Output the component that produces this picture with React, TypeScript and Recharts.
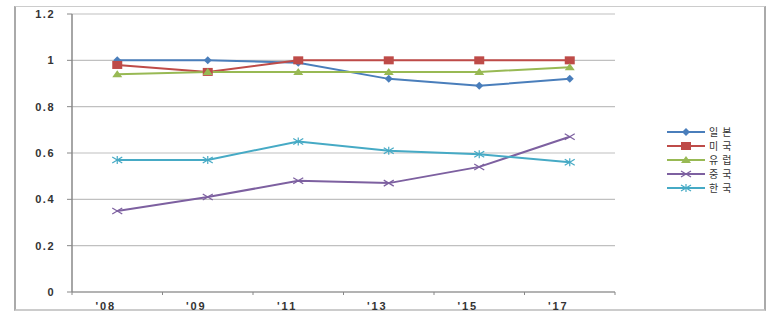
import React from 'react';
import { LineChart, Line, XAxis, YAxis, CartesianGrid } from 'recharts';

const years = ["'08", "'09", "'11", "'13", "'15", "'17"];
const japan = [1.0, 1.0, 0.99, 0.92, 0.89, 0.92];
const usa = [0.98, 0.95, 1.0, 1.0, 1.0, 1.0];
const europe = [0.94, 0.95, 0.95, 0.95, 0.95, 0.97];
const china = [0.35, 0.41, 0.48, 0.47, 0.54, 0.67];
const korea = [0.57, 0.57, 0.65, 0.61, 0.595, 0.56];
const yTicks = [0, 0.2, 0.4, 0.6, 0.8, 1, 1.2];

const series = [
  { key: 'japan', name: '일본', color: '#4a7ebb', shape: 'diamond' },
  { key: 'usa', name: '미국', color: '#be4b48', shape: 'square' },
  { key: 'europe', name: '유럽', color: '#98b954', shape: 'triangle' },
  { key: 'china', name: '중국', color: '#7d60a0', shape: 'x' },
  { key: 'korea', name: '한국', color: '#46aac5', shape: 'star' },
];

const data = years.map((year, i) => ({
  year,
  japan: japan[i],
  usa: usa[i],
  europe: europe[i],
  china: china[i],
  korea: korea[i],
}));

const Marker = ({ cx, cy, shape, color }: any) => {
  if (cx == null || cy == null) return null;
  switch (shape) {
    case 'diamond':
      return <polygon points={`${cx},${cy - 4} ${cx + 4},${cy} ${cx},${cy + 4} ${cx - 4},${cy}`} fill={color} />;
    case 'square':
      return <rect x={cx - 5} y={cy - 4} width={10} height={8} fill={color} />;
    case 'triangle':
      return <polygon points={`${cx},${cy - 4} ${cx + 5},${cy + 3} ${cx - 5},${cy + 3}`} fill={color} />;
    case 'x':
      return (
        <g stroke={color} strokeWidth={1.2}>
          <line x1={cx - 5} y1={cy - 3} x2={cx + 5} y2={cy + 3} />
          <line x1={cx - 5} y1={cy + 3} x2={cx + 5} y2={cy - 3} />
        </g>
      );
    default:
      return (
        <g stroke={color} strokeWidth={1.2}>
          <line x1={cx - 5} y1={cy - 3} x2={cx + 5} y2={cy + 3} />
          <line x1={cx - 5} y1={cy + 3} x2={cx + 5} y2={cy - 3} />
          <line x1={cx} y1={cy - 4} x2={cx} y2={cy + 4} />
        </g>
      );
  }
};

const plotWidth = 543;
const bandWidth = plotWidth / years.length;

const XTick = ({ x, y, payload, index }: any) => (
  <g>
    <line x1={x - bandWidth / 2} y1={y - 8} x2={x - bandWidth / 2} y2={y - 5} stroke="#888" />
    {index === years.length - 1 && (
      <line x1={x + bandWidth / 2} y1={y - 8} x2={x + bandWidth / 2} y2={y - 5} stroke="#888" />
    )}
    <text x={x - 1} y={y + 10} textAnchor="end" fontSize={11} fontWeight="bold" fill="#333" letterSpacing={2}>
      {payload.value}
    </text>
  </g>
);

const Legend = () => (
  <svg width={100} height={84} style={{ position: 'absolute', left: 664, top: 124 }}>
    {series.map((s, i) => {
      const y = 8 + i * 14;
      return (
        <g key={s.key}>
          <line x1={3} y1={y} x2={41} y2={y} stroke={s.color} strokeWidth={2} />
          <Marker cx={22} cy={y} shape={s.shape} color={s.color} />
          <text x={45} y={y + 4} fontSize={10} fill="#333" letterSpacing={4} fontFamily="'Noto Sans CJK KR', sans-serif">
            {s.name}
          </text>
        </g>
      );
    })}
  </svg>
);

export default function App() {
  return (
    <div style={{ position: 'relative', width: 777, height: 325, background: '#fff', fontFamily: 'Arial, "Liberation Sans", sans-serif' }}>
      <style>{`body{margin:0}`}</style>
      <div
        style={{
          position: 'absolute',
          left: 14,
          top: 6,
          width: 752,
          height: 305,
          borderLeft: '2px solid #aaa',
          borderRight: '2px solid #aaa',
          borderTop: '1px solid #ccc',
          borderBottom: '2px solid #ccc',
          boxSizing: 'border-box',
        }}
      />
      <LineChart
        width={777}
        height={325}
        data={data}
        margin={{ top: 14, right: 162, bottom: 13, left: 0 }}
        style={{ position: 'absolute', left: 0, top: 0 }}
      >
        <CartesianGrid vertical={false} stroke="#c0c0c0" strokeWidth={1.2} />
        <XAxis
          dataKey="year"
          height={20}
          padding={{ left: bandWidth / 2, right: bandWidth / 2 }}
          axisLine={{ stroke: '#888', strokeWidth: 1.2 }}
          tickLine={false}
          tick={<XTick />}
          interval={0}
        />
        <YAxis
          width={72}
          domain={[0, 1.2]}
          ticks={yTicks}
          interval={0}
          axisLine={{ stroke: '#888', strokeWidth: 1.5 }}
          tickLine={{ stroke: '#888' }}
          tickSize={5}
          tickMargin={12}
          tick={{ fontSize: 11, fontWeight: 'bold', fill: '#333', letterSpacing: 1.5 }}
          tickFormatter={(v: number) => String(parseFloat(v.toFixed(1)))}
        />
        {series.map((s) => (
          <Line
            key={s.key}
            type="linear"
            dataKey={s.key}
            name={s.name}
            stroke={s.color}
            strokeWidth={2}
            dot={(p: any) => <Marker key={`${s.key}-${p.index}`} cx={p.cx} cy={p.cy} shape={s.shape} color={s.color} />}
            activeDot={false}
            isAnimationActive={false}
          />
        ))}
      </LineChart>
      <Legend />
    </div>
  );
}
